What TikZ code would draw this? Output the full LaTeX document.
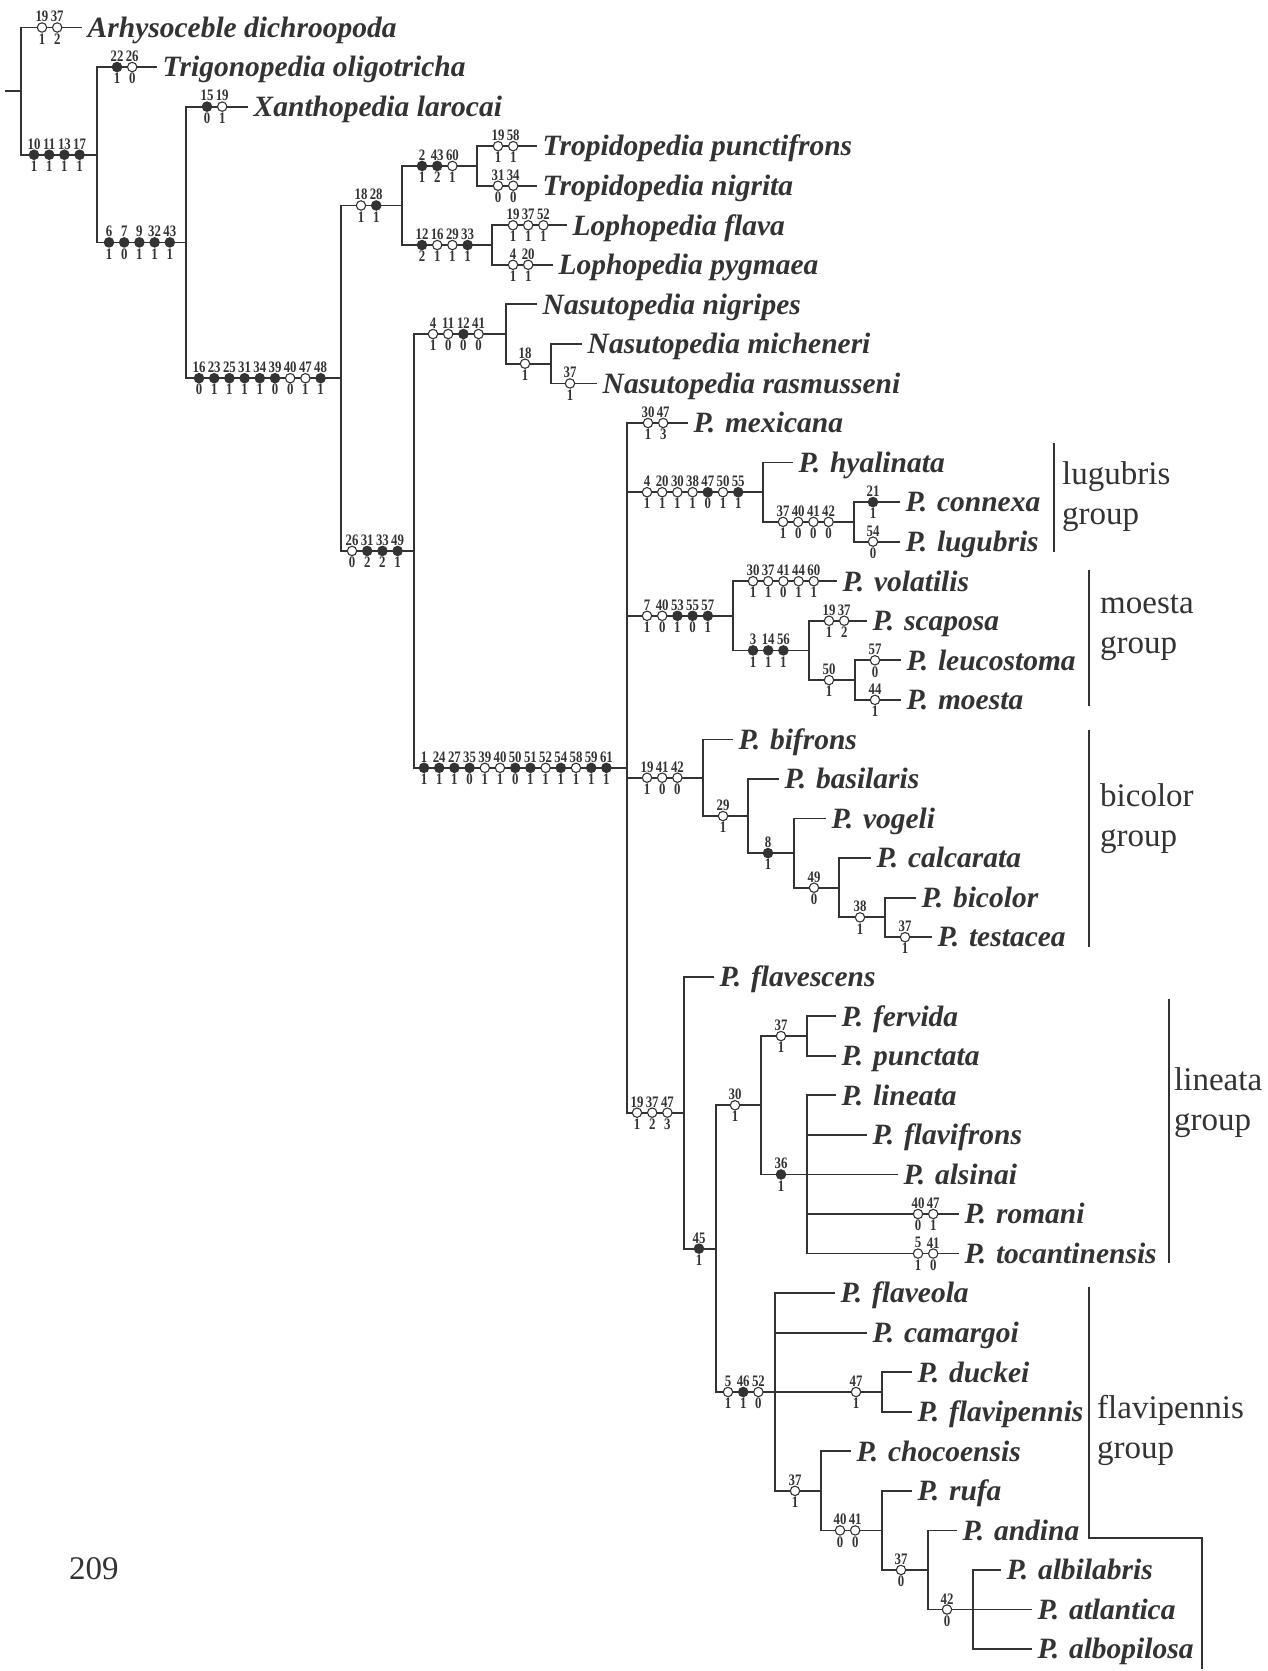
\documentclass[tikz,border=0pt]{standalone}
\usepackage{fontspec}
\usepackage{graphicx}
\setmainfont{Liberation Serif}
\definecolor{ink}{HTML}{333333}
\newcommand{\Pa}{P.\hspace{0.33em}}
\newcommand{\narrow}[1]{\scalebox{0.8}[1]{#1}}
\tikzset{
  branch/.style={line width=1.8pt, draw=ink},
  hom/.style={circle, draw=ink, line width=1.1pt, fill=white, minimum size=9.4pt, inner sep=0pt},
  syn/.style={hom, fill=ink},
  num/.style={font=\fontsize{16}{16}\selectfont\bfseries, text=ink, inner sep=0pt},
  taxon/.style={anchor=base west, inner sep=0pt, xshift=5.5pt, yshift=-9.8pt, text=ink,
    font=\fontsize{29.5}{30}\selectfont\bfseries\itshape},
  grp/.style={anchor=west, align=left, inner sep=0pt, text=ink, font=\fontsize{33}{40}\selectfont},
  bar/.style={line width=2pt, draw=ink},
}
% characters along one branch: name, row, first x, list num/state/kind
\newcommand{\chrs}[4]{%
  \foreach \cnum/\cstate/\ckind [count=\k from 0] in {#4}
    \node[\ckind, label distance=1.6pt, label={[num]above:\narrow{\cnum}},
      label={[num, yshift=-0.6pt]below:\narrow{\cstate}}]
      (#1-\k) at ({#3+15.2*\k},#2) {};%
}

\begin{document}
\begin{tikzpicture}[x=1pt, y=-39.55pt]
  \fill[white] (0,-0.6953) rectangle (1268,41.555);
  \useasboundingbox (0,-0.6953) rectangle (1268,41.555);

  % terminal taxa
  \foreach \nm/\lx/\ly/\txt in {
    arh/82/0/Arhysoceble dichroopoda, tri/157/1/Trigonopedia oligotricha,
    xan/248/2/Xanthopedia larocai, tpu/537/3/Tropidopedia punctifrons,
    tni/537/4/Tropidopedia nigrita, lfl/567/5/Lophopedia flava,
    lpy/553/6/Lophopedia pygmaea, nni/537/7/Nasutopedia nigripes,
    nmi/582/8/Nasutopedia micheneri, nra/597/9/Nasutopedia rasmusseni,
    mex/688/10/\Pa mexicana, hya/793/11/\Pa hyalinata, con/900/12/\Pa connexa,
    lgb/900/13/\Pa lugubris, vol/837/14/\Pa volatilis, sca/867/15/\Pa scaposa,
    leu/901/16/\Pa leucostoma, mst/901/17/\Pa moesta, bif/733/18/\Pa bifrons,
    bas/779/19/\Pa basilaris, vog/826/20/\Pa vogeli, cal/871/21/\Pa calcarata,
    bcl/916/22/\Pa bicolor, tes/932/23/\Pa testacea, flv/714/24/\Pa flavescens,
    fer/836/25/\Pa fervida, pun/836/26/\Pa punctata, lin/836/27/\Pa lineata,
    flf/867/28/\Pa flavifrons, als/898/29/\Pa alsinai, rom/959/30/\Pa romani,
    toc/959/31/\Pa tocantinensis, flo/835/32/\Pa flaveola, cam/867/33/\Pa camargoi,
    duc/912/34/\Pa duckei, fpe/912/35/\Pa flavipennis, cho/851/36/\Pa chocoensis,
    ruf/912/37/\Pa rufa, adn/957/38/\Pa andina, abl/1001/39/\Pa albilabris,
    atl/1032/40/\Pa atlantica, abp/1032/41/\Pa albopilosa}
  {
    \coordinate (\nm) at (\lx,\ly);
    \node[taxon] (\nm-t) at (\nm) {\txt};
  }

  % internal nodes
  \foreach \nm/\lx/\ly in {A/21/1.6084, B/97/3.2168, C/186/5.4336, D/341/8.8672,
    E/402/4.5, tro/477/3.5, lop/492/5.5, F/414/13.2344, nas/506/7.75, nasb/551/8.5,
    K/627/18.7188, lug/763/11.75, lugb/854/12.5, moe/733/14.875, moeb/809/15.75,
    moec/855/16.5, bic/703/18.9688, bicb/748/19.9375, bicc/794/20.875,
    bicd/839/21.75, bice/885/22.5, V/684/27.4375, W/716/30.875, X/761/27.25,
    linb/807/25.5, linc/807/29, fpn/775/34.5, fpnb/882/34.5, fpnc/821/37,
    fpnd/882/38, fpne/928/39, fpnf/973/40}
    \coordinate (\nm) at (\lx,\ly);
  \coordinate (base) at (5,1.6084);

  % branches
  \draw[branch] (base) -- (A);
  \foreach \p/\c in {A/arh, A/B, B/tri, B/C, C/xan, C/D, D/E, D/F, E/tro, E/lop,
    tro/tpu, tro/tni, lop/lfl, lop/lpy, F/nas, F/K, nas/nni, nas/nasb, nasb/nmi,
    nasb/nra, K/mex, K/lug, K/moe, K/bic, K/V, lug/hya, lug/lugb, lugb/con,
    lugb/lgb, moe/vol, moe/moeb, moeb/sca, moeb/moec, moec/leu, moec/mst,
    bic/bif, bic/bicb, bicb/bas, bicb/bicc, bicc/vog, bicc/bicd, bicd/cal,
    bicd/bice, bice/bcl, bice/tes, V/flv, V/W, W/X, W/fpn, X/linb, X/linc,
    linb/fer, linb/pun, linc/lin, linc/flf, linc/als, linc/rom, linc/toc,
    fpn/flo, fpn/cam, fpn/fpnb, fpn/fpnc, fpnb/duc, fpnb/fpe, fpnc/cho,
    fpnc/fpnd, fpnd/ruf, fpnd/fpne, fpne/adn, fpne/fpnf, fpnf/abl, fpnf/atl,
    fpnf/abp}
    \draw[branch] (\p) |- (\c);

  % character changes
  \chrs{arh}{0}{42}{19/1/hom, 37/2/hom}
  \chrs{B}{3.2168}{34}{10/1/syn, 11/1/syn, 13/1/syn, 17/1/syn}
  \chrs{tri}{1}{117}{22/1/syn, 26/0/hom}
  \chrs{C}{5.4336}{109}{6/1/syn, 7/0/syn, 9/1/syn, 32/1/syn, 43/1/syn}
  \chrs{xan}{2}{207}{15/0/syn, 19/1/hom}
  \chrs{D}{8.8672}{199}{16/0/syn, 23/1/syn, 25/1/syn, 31/1/syn, 34/1/syn, 39/0/syn, 40/0/hom, 47/1/hom, 48/1/syn}
  \chrs{E}{4.5}{361}{18/1/hom, 28/1/syn}
  \chrs{tro}{3.5}{422}{2/1/syn, 43/2/syn, 60/1/hom}
  \chrs{tpu}{3}{498}{19/1/hom, 58/1/hom}
  \chrs{tni}{4}{498}{31/0/hom, 34/0/hom}
  \chrs{lop}{5.5}{422}{12/2/syn, 16/1/hom, 29/1/hom, 33/1/syn}
  \chrs{lfl}{5}{513}{19/1/hom, 37/1/hom, 52/1/hom}
  \chrs{lpy}{6}{513}{4/1/hom, 20/1/hom}
  \chrs{F}{13.2344}{352}{26/0/hom, 31/2/syn, 33/2/syn, 49/1/syn}
  \chrs{nas}{7.75}{433}{4/1/hom, 11/0/hom, 12/0/syn, 41/0/hom}
  \chrs{nasb}{8.5}{525}{18/1/hom}
  \chrs{nra}{9}{570}{37/1/hom}
  \chrs{K}{18.7188}{424}{1/1/syn, 24/1/syn, 27/1/syn, 35/0/syn, 39/1/hom, 40/1/hom, 50/0/syn, 51/1/syn, 52/1/hom, 54/1/syn, 58/1/hom, 59/1/syn, 61/1/syn}
  \chrs{mex}{10}{648}{30/1/hom, 47/3/hom}
  \chrs{lug}{11.75}{647}{4/1/hom, 20/1/hom, 30/1/hom, 38/1/hom, 47/0/syn, 50/1/hom, 55/1/syn}
  \chrs{lugb}{12.5}{783}{37/1/hom, 40/0/hom, 41/0/hom, 42/0/hom}
  \chrs{con}{12}{873}{21/1/syn}
  \chrs{lgb}{13}{873}{54/0/hom}
  \chrs{moe}{14.875}{647}{7/1/hom, 40/0/hom, 53/1/syn, 55/0/syn, 57/1/syn}
  \chrs{vol}{14}{753}{30/1/hom, 37/1/hom, 41/0/hom, 44/1/hom, 60/1/hom}
  \chrs{moeb}{15.75}{753}{3/1/syn, 14/1/syn, 56/1/syn}
  \chrs{sca}{15}{829}{19/1/hom, 37/2/hom}
  \chrs{moec}{16.5}{829}{50/1/hom}
  \chrs{leu}{16}{875}{57/0/hom}
  \chrs{mst}{17}{875}{44/1/hom}
  \chrs{bic}{18.9688}{647}{19/1/hom, 41/0/hom, 42/0/hom}
  \chrs{bicb}{19.9375}{723}{29/1/hom}
  \chrs{bicc}{20.875}{768}{8/1/syn}
  \chrs{bicd}{21.75}{814}{49/0/hom}
  \chrs{bice}{22.5}{860}{38/1/hom}
  \chrs{tes}{23}{905}{37/1/hom}
  \chrs{V}{27.4375}{637}{19/1/hom, 37/2/hom, 47/3/hom}
  \chrs{W}{30.875}{699}{45/1/syn}
  \chrs{X}{27.25}{735}{30/1/hom}
  \chrs{linb}{25.5}{781}{37/1/hom}
  \chrs{linc}{29}{781}{36/1/syn}
  \chrs{rom}{30}{918}{40/0/hom, 47/1/hom}
  \chrs{toc}{31}{918}{5/1/hom, 41/0/hom}
  \chrs{fpn}{34.5}{728}{5/1/hom, 46/1/syn, 52/0/hom}
  \chrs{fpnb}{34.5}{856}{47/1/hom}
  \chrs{fpnc}{37}{795}{37/1/hom}
  \chrs{fpnd}{38}{840}{40/0/hom, 41/0/hom}
  \chrs{fpne}{39}{901}{37/0/hom}
  \chrs{fpnf}{40}{947}{42/0/hom}

  % species groups
  \coordinate (lug1) at (1054,10.50);  \coordinate (lug2) at (1054,13.26);
  \coordinate (moe1) at (1089,13.72);  \coordinate (moe2) at (1089,17.15);
  \coordinate (bic1) at (1089,17.76);  \coordinate (bic2) at (1089,23.25);
  \coordinate (lin1) at (1169,24.56);  \coordinate (lin2) at (1169,31.24);
  \coordinate (fpn1) at (1089,31.85);  \coordinate (fpn2) at (1089,38.2);
  \coordinate (fpn3) at (1202,38.2);   \coordinate (fpn4) at (1202,41.5);
  \draw[bar] (lug1) -- (lug2);
  \draw[bar] (moe1) -- (moe2);
  \draw[bar] (bic1) -- (bic2);
  \draw[bar] (lin1) -- (lin2);
  \draw[bar] (fpn1) -- (fpn2) -- (fpn3) -- (fpn4);
  \node[grp] (lug-g) at (1062,11.85) {lugubris\\group};
  \node[grp] (moe-g) at (1100,15.18) {moesta\\group};
  \node[grp] (bic-g) at (1100,20.01) {bicolor\\group};
  \node[grp] (lin-g) at (1174,27.19) {lineata\\group};
  \node[grp] (fpn-g) at (1097,35.46) {flavipennis\\group};

  \node[grp] (plate) at (69,38.98) {209};
\end{tikzpicture}
\end{document}
